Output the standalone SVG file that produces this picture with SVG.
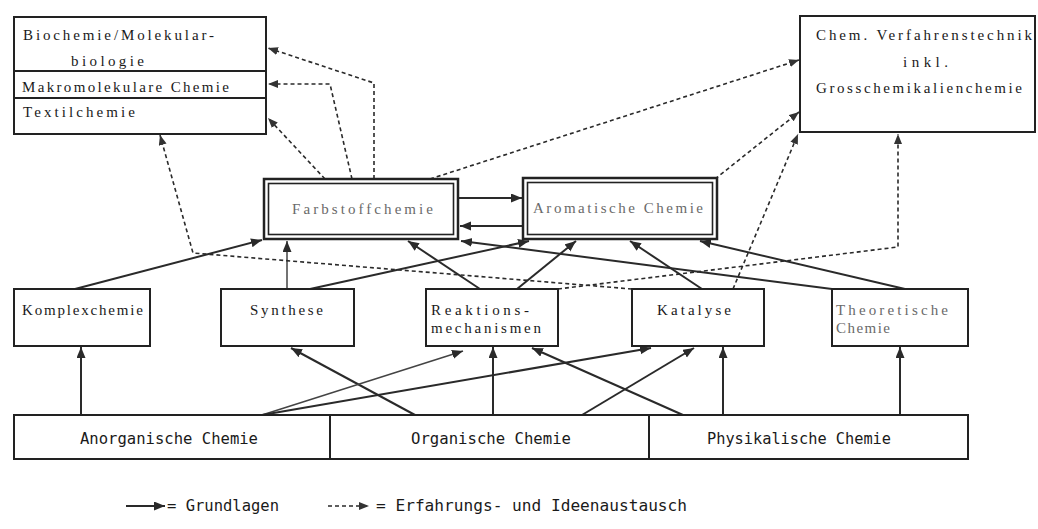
<svg xmlns="http://www.w3.org/2000/svg" width="1038" height="529" viewBox="0 0 1038 529">
<style>
.box{fill:#fff;stroke:#222;stroke-width:2}
.dbo{fill:#fff;stroke:#222;stroke-width:2.5}
.dbi{fill:none;stroke:#222;stroke-width:1.6}
.t{font-family:"Liberation Serif","DejaVu Serif",serif;font-size:15px;fill:#1a1a1a}
.g{fill:#6a6a6a}
.b{font-family:"DejaVu Sans Mono","Liberation Mono",monospace;font-size:16px;fill:#1a1a1a}
.s{fill:none;stroke:#2a2a2a;stroke-width:2}
.sl{fill:none;stroke:#444;stroke-width:1.5}
.d{fill:none;stroke:#2a2a2a;stroke-width:1.6;stroke-dasharray:4 3}
</style>
<defs>
<marker id="ah" markerUnits="userSpaceOnUse" markerWidth="12" markerHeight="10" refX="11" refY="4.5" orient="auto">
<path d="M0,0 L11,4.5 L0,9 z" fill="#2a2a2a"/>
</marker>
<marker id="ahd" markerUnits="userSpaceOnUse" markerWidth="12" markerHeight="10" refX="10" refY="4" orient="auto">
<path d="M0,0 L10,4 L0,8 z" fill="#333"/>
</marker>
</defs>
<rect width="1038" height="529" fill="#fff"/>

<g id="connectors">
<line class="s" x1="81" y1="415" x2="81" y2="347" marker-end="url(#ah)"/>
<line class="s" x1="415" y1="415" x2="291" y2="348" marker-end="url(#ah)"/>
<line class="sl" x1="262" y1="415" x2="463" y2="351" marker-end="url(#ah)"/>
<line class="s" x1="262" y1="415" x2="651" y2="348" marker-end="url(#ah)"/>
<line class="s" x1="493" y1="415" x2="493" y2="347" marker-end="url(#ah)"/>
<line class="s" x1="683" y1="415" x2="532" y2="348" marker-end="url(#ah)"/>
<line class="s" x1="582" y1="415" x2="694" y2="348" marker-end="url(#ah)"/>
<line class="s" x1="723" y1="415" x2="723" y2="347" marker-end="url(#ah)"/>
<line class="s" x1="900" y1="415" x2="900" y2="347" marker-end="url(#ah)"/>
<line class="s" x1="75" y1="289" x2="262" y2="240" marker-end="url(#ah)"/>
<line class="sl" x1="287" y1="289" x2="287" y2="241" marker-end="url(#ah)"/>
<line class="s" x1="310" y1="289" x2="529" y2="241" marker-end="url(#ah)"/>
<line class="s" x1="480" y1="289" x2="408" y2="241" marker-end="url(#ah)"/>
<line class="s" x1="517" y1="289" x2="576" y2="241" marker-end="url(#ah)"/>
<line class="s" x1="702" y1="289" x2="630" y2="241" marker-end="url(#ah)"/>
<line class="s" x1="832" y1="289" x2="461" y2="241" marker-end="url(#ah)"/>
<line class="s" x1="905" y1="289" x2="700" y2="241" marker-end="url(#ah)"/>
<line class="s" x1="459" y1="198" x2="522" y2="198" marker-end="url(#ah)"/>
<line class="s" x1="523" y1="226" x2="460" y2="226" marker-end="url(#ah)"/>
<polyline class="d" points="374,179 374,83 268,48" marker-end="url(#ahd)"/>
<polyline class="d" points="352,179 330,84 268,84" marker-end="url(#ahd)"/>
<line class="d" x1="325" y1="179" x2="268" y2="118" marker-end="url(#ahd)"/>
<polyline class="d" points="632,289 193,253 160,135" marker-end="url(#ahd)"/>
<line class="d" x1="430" y1="179" x2="799" y2="60" marker-end="url(#ahd)"/>
<line class="d" x1="715" y1="179" x2="799" y2="112" marker-end="url(#ahd)"/>
<line class="d" x1="733" y1="289" x2="798" y2="134" marker-end="url(#ahd)"/>
<polyline class="d" points="558,289 898,247 898,134" marker-end="url(#ahd)"/>
</g>

<g id="biochemie">
<rect class="box" x="14" y="17" width="252" height="54"/>
<text class="t" x="23" y="40" textLength="191" lengthAdjust="spacing">Biochemie/Molekular-</text>
<text class="t" x="71" y="66" textLength="73" lengthAdjust="spacing">biologie</text>
</g>
<g id="makromolekulare">
<rect class="box" x="14" y="71" width="252" height="27"/>
<text class="t" x="22" y="92" textLength="207" lengthAdjust="spacing">Makromolekulare Chemie</text>
</g>
<g id="textilchemie">
<rect class="box" x="14" y="98" width="252" height="36"/>
<text class="t" x="23" y="117" textLength="112" lengthAdjust="spacing">Textilchemie</text>
</g>

<g id="verfahrenstechnik">
<rect class="box" x="800" y="16" width="235" height="116"/>
<text class="t" x="816" y="40" textLength="216" lengthAdjust="spacing">Chem. Verfahrenstechnik</text>
<text class="t" x="903" y="67" textLength="45" lengthAdjust="spacing">inkl.</text>
<text class="t" x="816" y="93" textLength="206" lengthAdjust="spacing">Grosschemikalienchemie</text>
</g>

<g id="farbstoffchemie">
<rect class="dbo" x="264" y="179" width="194" height="60"/>
<rect class="dbi" x="268.5" y="183.5" width="185" height="51"/>
<text class="t g" x="292" y="214" textLength="141" lengthAdjust="spacing">Farbstoffchemie</text>
</g>
<g id="aromatische">
<rect class="dbo" x="523" y="178" width="194" height="61"/>
<rect class="dbi" x="527.5" y="182.5" width="185" height="52"/>
<text class="t g" x="533" y="213" textLength="170" lengthAdjust="spacing">Aromatische Chemie</text>
</g>

<g id="komplexchemie">
<rect class="box" x="14" y="289" width="136" height="57"/>
<text class="t" x="22" y="315" textLength="121" lengthAdjust="spacing">Komplexchemie</text>
</g>
<g id="synthese">
<rect class="box" x="221" y="289" width="133" height="57"/>
<text class="t" x="250" y="315" textLength="73" lengthAdjust="spacing">Synthese</text>
</g>
<g id="reaktionsmechanismen">
<rect class="box" x="426" y="289" width="132" height="57"/>
<text class="t" x="431" y="315" textLength="98" lengthAdjust="spacing">Reaktions-</text>
<text class="t" x="431" y="333" textLength="110" lengthAdjust="spacing">mechanismen</text>
</g>
<g id="katalyse">
<rect class="box" x="632" y="289" width="132" height="57"/>
<text class="t" x="657" y="315" textLength="74" lengthAdjust="spacing">Katalyse</text>
</g>
<g id="theoretische">
<rect class="box" x="832" y="289" width="136" height="57"/>
<text class="t g" x="836" y="315" textLength="112" lengthAdjust="spacing">Theoretische</text>
<text class="t g" x="836" y="333" textLength="54" lengthAdjust="spacing">Chemie</text>
</g>

<g id="anorganische">
<rect class="box" x="14" y="415" width="316" height="44"/>
<text class="b" x="80" y="444" textLength="178" lengthAdjust="spacingAndGlyphs">Anorganische Chemie</text>
</g>
<g id="organische">
<rect class="box" x="330" y="415" width="319" height="44"/>
<text class="b" x="411" y="444" textLength="160" lengthAdjust="spacingAndGlyphs">Organische Chemie</text>
</g>
<g id="physikalische">
<rect class="box" x="649" y="415" width="319" height="44"/>
<text class="b" x="707" y="444" textLength="184" lengthAdjust="spacingAndGlyphs">Physikalische Chemie</text>
</g>

<g id="legend">
<line class="s" x1="126" y1="506" x2="165" y2="506" marker-end="url(#ah)"/>
<text class="b" x="167" y="511" textLength="112" lengthAdjust="spacingAndGlyphs">= Grundlagen</text>
<line class="d" x1="328" y1="506" x2="369" y2="506" marker-end="url(#ahd)"/>
<text class="b" x="376" y="511" textLength="311" lengthAdjust="spacingAndGlyphs">= Erfahrungs- und Ideenaustausch</text>
</g>
</svg>
